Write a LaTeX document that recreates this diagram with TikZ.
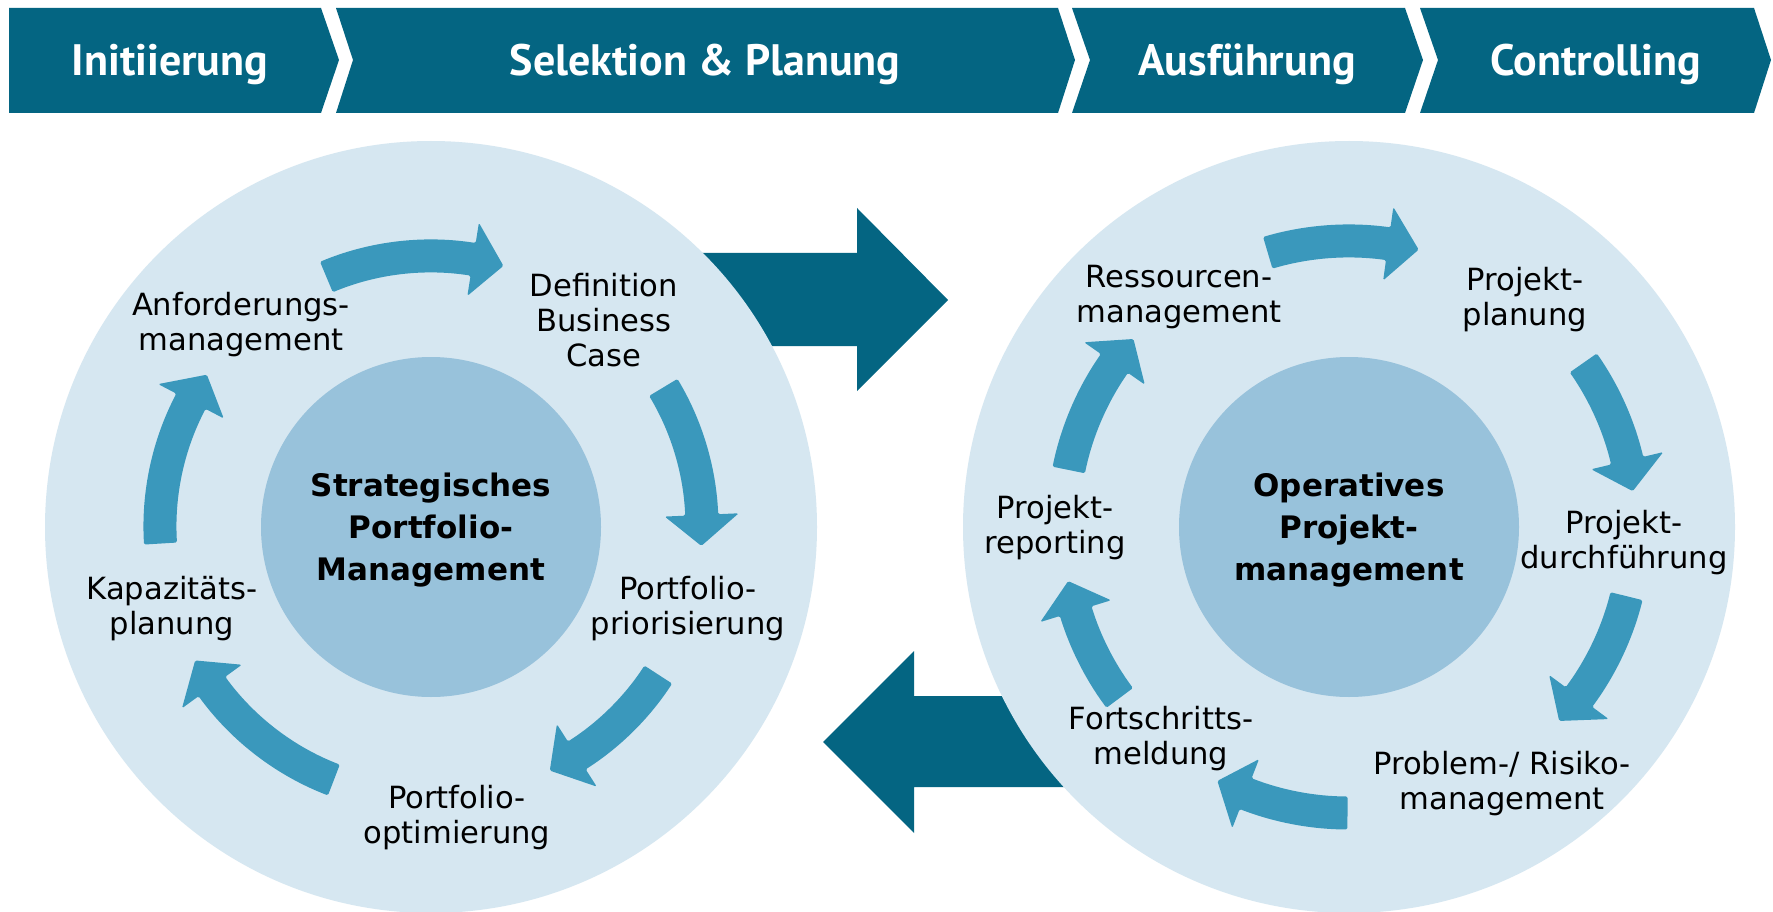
\documentclass[tikz,border=0pt]{standalone}
\usepackage{fontspec}
\setmainfont{DejaVu Sans}
\newfontfamily\headfont{PT Sans}
\definecolor{darkteal}{HTML}{046582}
\definecolor{outerc}{HTML}{D6E7F1}
\definecolor{innerc}{HTML}{98C2DB}
\definecolor{cycc}{HTML}{3A98BC}
\def\bw{16.5}
\def\hw{37}
\def\headlen{31}
\newcommand{\cycarrow}[5]{%
\begin{scope}[shift={(#1,#2)}]
\pgfmathsetmacro\hb{#5+\headlen/#3*57.2958}
\fill[cycc,rounded corners=1.5pt] (#4:#3+\bw) arc[start angle=#4, end angle=\hb, radius=#3+\bw] -- (\hb:#3+\hw) -- (#5:#3) -- (\hb:#3-\hw) -- (\hb:#3-\bw) arc[start angle=\hb, end angle=#4, radius=#3-\bw] -- cycle;
\end{scope}}
\tikzset{
  headtxt/.style={text=white, inner sep=0pt, anchor=base, font=\headfont\bfseries\fontsize{44}{50}\selectfont},
  lbl/.style={inner sep=0pt, align=center, font=\fontsize{30.6}{35}\selectfont},
  ctr/.style={inner sep=0pt, align=center, font=\bfseries\fontsize{31}{42}\selectfont}
}
\begin{document}
\begin{tikzpicture}[x=1pt,y=1pt]
\useasboundingbox[fill=white] (0,0) rectangle (1773,-912);
% header chevrons
\fill[darkteal] (9,-8) -- (321,-8) -- (339,-60) -- (321,-113) -- (9,-113) -- cycle;
\fill[darkteal] (336,-8) -- (1058,-8) -- (1075,-60) -- (1058,-113) -- (336,-113) -- (353,-60) -- cycle;
\fill[darkteal] (1072,-8) -- (1405,-8) -- (1423,-60) -- (1405,-113) -- (1072,-113) -- (1090,-60) -- cycle;
\fill[darkteal] (1420,-8) -- (1754,-8) -- (1771,-60) -- (1754,-113) -- (1420,-113) -- (1438,-60) -- cycle;
\node[headtxt] (h1) at (170,-76) {Initiierung};
\node[headtxt] (h2) at (705,-76) {Selektion \& Planung};
\node[headtxt] (h3) at (1247,-76) {Ausführung};
\node[headtxt] (h4) at (1596,-76) {Controlling};
% big arrows (behind circles)
\fill[darkteal] (600,-253) -- (857,-253) -- (857,-208) -- (948,-300) -- (857,-391) -- (857,-346) -- (600,-346) -- cycle;
\fill[darkteal] (1150,-696) -- (914,-696) -- (914,-651) -- (823,-742) -- (914,-833) -- (914,-787) -- (1150,-787) -- cycle;
% circles
\fill[outerc] (431,-527) circle[radius=386];
\fill[innerc] (431,-527) circle[radius=170];
\fill[outerc] (1349,-527) circle[radius=386];
\fill[innerc] (1349,-527) circle[radius=170];
% left cycle arrows
\cycarrow{431}{-527}{271}{112.7}{74.5}
\cycarrow{431}{-527}{271}{31}{-4}
\cycarrow{431}{-527}{271}{-33}{-64}
\cycarrow{431}{-527}{271}{-111}{-150.5}
\cycarrow{431}{-527}{271}{183.5}{145.8}
% right cycle arrows
\cycarrow{1349}{-527}{286}{106.5}{75.9}
\cycarrow{1349}{-527}{286}{35}{7.2}
\cycarrow{1349}{-527}{286}{-14}{-42.7}
\cycarrow{1349}{-527}{286}{-90.3}{-117.4}
\cycarrow{1349}{-527}{286}{-143.3}{-169.1}
\cycarrow{1349}{-527}{286}{168.5}{138.9}
% left labels
\node[ctr] (spm) at (431,-530) {Strategisches\\Portfolio-\\Management};
\node[lbl] (anf) at (241,-325) {Anforderungs-\\management};
\node[lbl] (dbc) at (604,-320) {Definition\\Business\\Case};
\node[lbl] (ppr) at (688,-609) {Portfolio-\\priorisierung};
\node[lbl] (pop) at (457,-818) {Portfolio-\\optimierung};
\node[lbl] (kap) at (172,-609) {Kapazitäts-\\planung};
% right labels
\node[ctr] (opm) at (1349,-530) {Operatives\\Projekt-\\management};
\node[lbl] (res) at (1179,-297) {Ressourcen-\\management};
\node[lbl] (ppl) at (1525,-300) {Projekt-\\planung};
\node[lbl] (pdf) at (1624,-543) {Projekt-\\durchführung};
\node[lbl] (prm) at (1502,-784) {Problem-/ Risiko-\\management};
\node[lbl] (fsm) at (1161,-739) {Fortschritts-\\meldung};
\node[lbl] (prp) at (1055,-528) {Projekt-\\reporting};
\end{tikzpicture}
\end{document}
